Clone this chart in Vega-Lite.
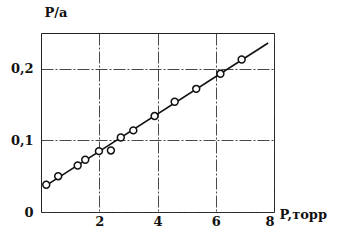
{
  "$schema": "https://vega.github.io/schema/vega-lite/v6.json",
  "width": 233,
  "height": 179,
  "autosize": "none",
  "padding": {"left": 41, "top": 33, "right": 63, "bottom": 37},
  "background": "white",
  "config": {
    "view": {"stroke": "#222", "strokeWidth": 1},
    "font": "DejaVu Serif"
  },
  "datasets": {
    "pts": [
      {"P": 0.18, "Pa": 0.038},
      {"P": 0.59, "Pa": 0.05},
      {"P": 1.26, "Pa": 0.065},
      {"P": 1.52, "Pa": 0.073},
      {"P": 1.99, "Pa": 0.085},
      {"P": 2.4, "Pa": 0.086},
      {"P": 2.74, "Pa": 0.104},
      {"P": 3.17, "Pa": 0.114},
      {"P": 3.9, "Pa": 0.134},
      {"P": 4.59, "Pa": 0.154},
      {"P": 5.33, "Pa": 0.172},
      {"P": 6.16, "Pa": 0.193},
      {"P": 6.89, "Pa": 0.213}
    ],
    "fit": [
      {"P": 0.1, "Pa": 0.035},
      {"P": 7.8, "Pa": 0.236}
    ]
  },
  "layer": [
    {
      "data": {"name": "fit"},
      "mark": {"type": "line", "color": "#111", "strokeWidth": 1.6},
      "encoding": {
        "x": {
          "field": "P", "type": "quantitative",
          "scale": {"domain": [0, 8], "nice": false},
          "axis": {
            "values": [2, 4, 6, 8],
            "grid": true, "gridColor": "#333", "gridDash": [12, 2, 2, 2], "gridWidth": 0.9,
            "domain": false, "ticks": false,
            "labelFont": "DejaVu Serif", "labelFontWeight": "bold", "labelFontSize": 13, "labelColor": "#111",
            "labelPadding": 3,
            "title": "P,торр", "titleFont": "DejaVu Serif", "titleFontWeight": "bold", "titleFontSize": 13, "titleColor": "#111",
            "titleX": 238, "titleY": 2, "titleAlign": "left", "titleBaseline": "middle", "titleAnchor": null
          }
        },
        "y": {
          "field": "Pa", "type": "quantitative",
          "scale": {"domain": [0, 0.25], "nice": false},
          "axis": {
            "values": [0, 0.1, 0.2],
            "labelExpr": "replace(format(datum.value, '.1~f'), '.', ',')",
            "grid": true, "gridColor": "#333", "gridDash": [12, 2, 2, 2], "gridWidth": 0.9,
            "domain": false, "ticks": false,
            "labelFont": "DejaVu Serif", "labelFontWeight": "bold", "labelFontSize": 13, "labelColor": "#111",
            "labelPadding": 8,
            "title": "P/a", "titleFont": "DejaVu Serif", "titleFontWeight": "bold", "titleFontSize": 13, "titleColor": "#111",
            "titleAngle": 0, "titleX": 3, "titleY": -21, "titleAlign": "left", "titleBaseline": "middle", "titleAnchor": null
          }
        }
      }
    },
    {
      "data": {"name": "pts"},
      "mark": {"type": "point", "shape": "circle", "filled": false, "fill": "white", "stroke": "#111", "strokeWidth": 1.5, "size": 48, "opacity": 1},
      "encoding": {
        "x": {"field": "P", "type": "quantitative"},
        "y": {"field": "Pa", "type": "quantitative"}
      }
    }
  ]
}
